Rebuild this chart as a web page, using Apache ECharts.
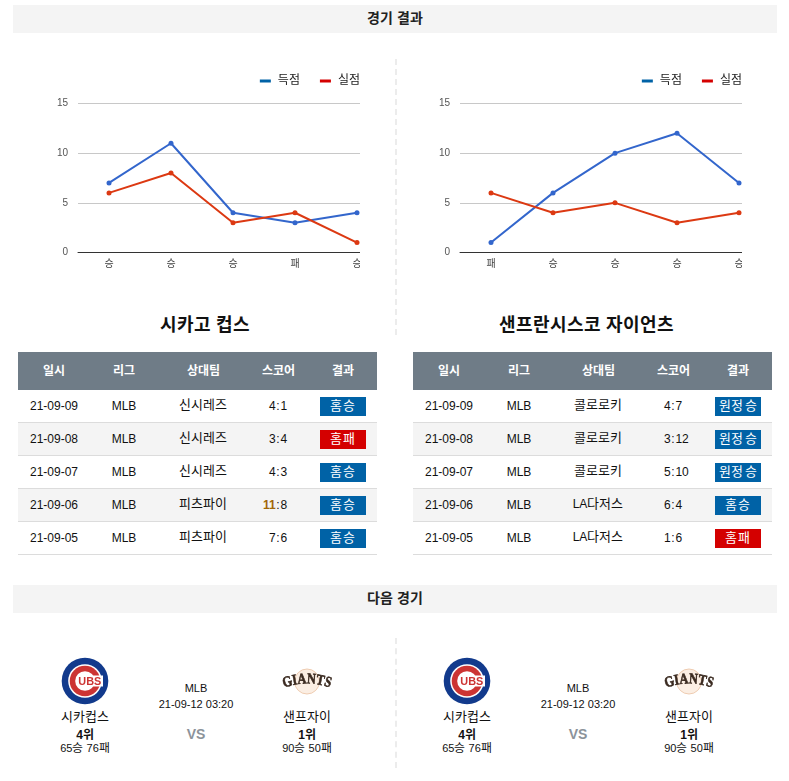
<!DOCTYPE html>
<html lang="ko">
<head>
<meta charset="utf-8">
<script src="https://cdn.jsdelivr.net/npm/echarts@6/dist/echarts.min.js"></script>
<style>
  /* Hangul runs a little wider than the Latin text beside it */
  @font-face { font-family: "HangulBody"; src: local("Noto Sans CJK KR"), local("Noto Sans CJK KR Regular"); font-weight: normal; size-adjust: 108%; unicode-range: U+AC00-D7A3; }
  @font-face { font-family: "HangulBody"; src: local("Noto Sans CJK KR Bold"); font-weight: bold; unicode-range: U+AC00-D7A3; }
  html, body { margin: 0; padding: 0; background: #fff; }
  body { width: 789px; height: 781px; position: relative; overflow: hidden;
         font-family: "HangulBody", "Liberation Sans", "Noto Sans CJK KR", sans-serif; font-size: 12px; color: #111; }
  .abs { position: absolute; }
  .band { position: absolute; left: 13px; width: 764px; height: 28px; line-height: 27px; background: #f4f4f4;
          text-align: center; font-size: 14px; font-weight: bold; color: #222; }
  .sep { position: absolute; left: 395px; width: 0; border-left: 2px dashed #ececec; }
  .title { position: absolute; width: 360px; text-align: center; font-size: 18px; font-weight: bold; color: #111; line-height: 24px; top: 312.5px; }
  .t { position: absolute; transform: translateX(-50%); white-space: nowrap; line-height: 16px; text-align: center; }
  .head { position: absolute; height: 38px; background: #6f7c87; width: 359px; }
  .row { position: absolute; width: 359px; height: 32px; border-bottom: 1px solid #dcdcdc; }
  .badge { position: absolute; width: 46px; height: 19px; line-height: 19px; text-align: center; color: #fff; white-space: nowrap; }
  .num { position: absolute; top: 7.5px; line-height: 16px; white-space: nowrap; }
</style>
</head>
<body>
<div class="band" style="top:5px">경기 결과</div>
<div class="band" style="top:585px">다음 경기</div>
<div class="sep" style="top:59px;height:276px"></div>
<div class="sep" style="top:638px;height:130px"></div>

<div id="chartA" class="abs" style="left:0;top:60px;width:360px;height:230px"></div>
<div id="chartB" class="abs" style="left:382px;top:60px;width:360px;height:230px"></div>

<div class="title" style="left:25px">시카고 컵스</div>
<div class="title" style="left:407px">샌프란시스코 자이언츠</div>

<div id="tables"></div>
<div id="next"></div>

<script>
// Recent form of each club
const resultsCubs = ['승', '승', '승', '패', '승'];
const scoredCubs = [7, 11, 4, 3, 4];
const concededCubs = [6, 8, 3, 4, 1];
const resultsGiants = ['패', '승', '승', '승', '승'];
const scoredGiants = [1, 6, 10, 12, 7];
const concededGiants = [6, 4, 5, 3, 4];
const seriesNames = ['득점', '실점'];

// Game log tables
const tableHeader = ['일시', '리그', '상대팀', '스코어', '결과'];
const gamesCubs = [
  ['21-09-09', 'MLB', '신시레즈', '4', '1', '홈승'],
  ['21-09-08', 'MLB', '신시레즈', '3', '4', '홈패'],
  ['21-09-07', 'MLB', '신시레즈', '4', '3', '홈승'],
  ['21-09-06', 'MLB', '피츠파이', '11', '8', '홈승'],
  ['21-09-05', 'MLB', '피츠파이', '7', '6', '홈승']
];
const gamesGiants = [
  ['21-09-09', 'MLB', '콜로로키', '4', '7', '원정 승'],
  ['21-09-08', 'MLB', '콜로로키', '3', '12', '원정 승'],
  ['21-09-07', 'MLB', '콜로로키', '5', '10', '원정 승'],
  ['21-09-06', 'MLB', 'LA다저스', '6', '4', '홈승'],
  ['21-09-05', 'MLB', 'LA다저스', '1', '6', '홈패']
];

// Upcoming fixture
const nextLeague = 'MLB';
const nextTime = '21-09-12 03:20';
const homeTeam = ['시카컵스', '4위', '65승 76패'];
const awayTeam = ['샌프자이', '1위', '90승 50패'];

function lineOption(labels, scored, conceded) {
  return {
    animation: false,
    textStyle: { fontFamily: '"Liberation Sans","Noto Sans CJK KR",sans-serif' },
    // The plot is wider than its box, so the last band is cut off at the right edge
    grid: { left: 78, top: 43.5, width: 310, height: 149, outerBoundsMode: 'none' },
    legend: {
      right: 0, top: 15, padding: 0, icon: 'rect', itemWidth: 11, itemHeight: 3, itemGap: 20,
      selectedMode: false,
      textStyle: { fontSize: 12, color: '#222', padding: [0, 0, 0, 2] },
      data: [
        { name: seriesNames[0], itemStyle: { color: '#0062a6' } },
        { name: seriesNames[1], itemStyle: { color: '#d40000' } }
      ]
    },
    xAxis: {
      type: 'category', data: labels, boundaryGap: true,
      axisLine: { show: true, lineStyle: { color: '#333', width: 1 } }, axisTick: { show: false },
      axisLabel: { fontSize: 10, color: '#444', margin: 7, interval: 0 }
    },
    yAxis: {
      type: 'value', min: 0, max: 15, interval: 5,
      axisLine: { show: false }, axisTick: { show: false },
      axisLabel: { fontSize: 10, color: '#555', margin: 10, padding: [3, 0, 0, 0] },
      splitLine: { lineStyle: { color: '#c8c8c8', width: 1 } }
    },
    series: [
      { name: seriesNames[0], type: 'line', data: scored, symbol: 'circle', symbolSize: 5, clip: false,
        lineStyle: { color: '#3366cc', width: 2 }, itemStyle: { color: '#3366cc' } },
      { name: seriesNames[1], type: 'line', data: conceded, symbol: 'circle', symbolSize: 5, clip: false,
        lineStyle: { color: '#dc3912', width: 2 }, itemStyle: { color: '#dc3912' } }
    ]
  };
}

echarts.init(document.getElementById('chartA')).setOption(lineOption(resultsCubs, scoredCubs, concededCubs));
echarts.init(document.getElementById('chartB')).setOption(lineOption(resultsGiants, scoredGiants, concededGiants));

// Tables are laid out on fixed columns
const columnCentres = [36, 106, 185, 260, 325];
function addText(parent, text, x, y, extra) {
  const el = document.createElement('div');
  el.className = 't';
  el.textContent = text;
  el.style.left = x + 'px';
  el.style.top = (y - 8) + 'px';
  if (extra) el.style.cssText += extra;
  parent.appendChild(el);
  return el;
}
// Score figures stay aligned on the colon
function addScore(row, left, right) {
  const a = document.createElement('span');
  a.className = 'num';
  a.textContent = left;
  a.style.right = (359 - 257.7) + 'px';
  if (Number(left) >= 10) a.style.cssText += 'font-weight:bold;color:#a0660a';
  const colon = document.createElement('span');
  colon.className = 'num';
  colon.textContent = ':';
  colon.style.left = '258.2px';
  const b = document.createElement('span');
  b.className = 'num';
  b.textContent = right;
  b.style.left = '262.4px';
  row.append(a, colon, b);
}
function buildTable(left, games) {
  const root = document.getElementById('tables');
  const head = document.createElement('div');
  head.className = 'head';
  head.style.cssText = `left:${left}px;top:352px`;
  tableHeader.forEach((h, i) => addText(head, h, columnCentres[i], 18.5, 'color:#fff;font-weight:bold'));
  root.appendChild(head);
  games.forEach((g, r) => {
    const row = document.createElement('div');
    row.className = 'row';
    row.style.cssText = `left:${left}px;top:${390 + r * 33}px;background:${r % 2 ? '#f4f4f4' : '#fff'}`;
    addText(row, g[0], columnCentres[0], 15.5);
    addText(row, g[1], columnCentres[1], 15.5);
    addText(row, g[2], columnCentres[2], 15);
    addScore(row, g[3], g[4]);
    const b = document.createElement('div');
    b.className = 'badge';
    b.textContent = g[5];
    b.style.cssText = `left:302px;top:7px;background:${g[5].endsWith('패') ? '#d40000' : '#0062a6'};` +
      (g[5].includes(' ') ? 'word-spacing:-1px' : 'letter-spacing:1px');
    row.appendChild(b);
    root.appendChild(row);
  });
}
buildTable(18, gamesCubs);
buildTable(413, gamesGiants);

// Club marks
function cubsMark(cx, cy) {
  return `<svg class="abs" style="left:${cx - 24}px;top:${cy - 24}px;filter:blur(.4px)" width="48" height="48" viewBox="0 0 48 48">
    <circle cx="24" cy="24" r="23.3" fill="#123a8c"/>
    <circle cx="24" cy="24" r="16.8" fill="#fff"/>
    <circle cx="24" cy="24" r="15.3" fill="#cc3433"/>
    <circle cx="24" cy="24" r="9.8" fill="#fff"/>
    <rect x="26" y="18.5" width="16" height="11" fill="#fff"/>
    <text x="28.8" y="28" text-anchor="middle" font-family="Liberation Sans" font-weight="bold" font-size="10.5" textLength="23" lengthAdjust="spacingAndGlyphs" fill="#cc3433">UBS</text>
  </svg>`;
}
function giantsMark(cx, cy) {
  return `<svg class="abs" style="left:${cx - 25}px;top:${cy - 16}px;filter:blur(.45px)" width="50" height="32" viewBox="0 0 50 32">
    <circle cx="25" cy="15.5" r="12.5" fill="#fbeee3" stroke="#eecbb0" stroke-width="1"/>
    <path id="arc${cx}" d="M1 22 Q25 13 49 22" fill="none"/>
    <text font-family="Liberation Serif" font-weight="bold" font-size="15" fill="#3a2a20" stroke="#3a2a20" stroke-width=".6" textLength="47" lengthAdjust="spacingAndGlyphs">
      <textPath href="#arc${cx}" startOffset="50%" text-anchor="middle">GIANTS</textPath>
    </text>
  </svg>`;
}
function buildFixture(dx) {
  const root = document.getElementById('next');
  root.insertAdjacentHTML('beforeend', cubsMark(85 + dx, 681) + giantsMark(307 + dx, 682));
  addText(root, homeTeam[0], 85 + dx, 717);
  addText(root, homeTeam[1], 85 + dx, 734.5, 'font-weight:bold');
  addText(root, homeTeam[2], 85 + dx, 747.5, 'font-size:11px');
  addText(root, nextLeague, 196 + dx, 688, 'font-size:11px');
  addText(root, nextTime, 196 + dx, 704, 'font-size:11px');
  addText(root, 'VS', 196 + dx, 734, 'font-weight:bold;font-size:14px;color:#8c939a');
  addText(root, awayTeam[0], 307 + dx, 717);
  addText(root, awayTeam[1], 307 + dx, 734.5, 'font-weight:bold');
  addText(root, awayTeam[2], 307 + dx, 747.5, 'font-size:11px');
}
buildFixture(0);
buildFixture(382);
</script>
</body>
</html>
